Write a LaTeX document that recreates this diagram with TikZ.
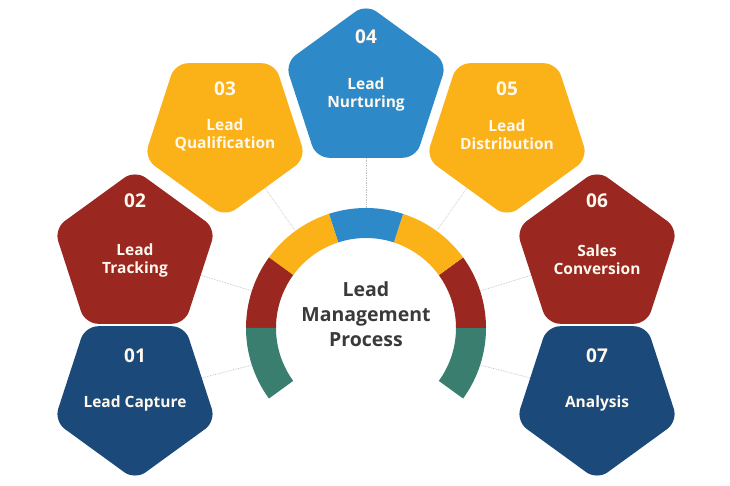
\documentclass[tikz,border=0pt]{standalone}
\usepackage{fontspec}
\setmainfont{Open Sans}
\usepackage{xcolor}
\definecolor{NAVYCOLOR}{HTML}{1B4A7A}
\definecolor{REDCOLOR}{HTML}{9A2820}
\definecolor{GOLDCOLOR}{HTML}{FBB118}
\definecolor{SKYCOLOR}{HTML}{2E89C9}
\definecolor{TEALCOLOR}{HTML}{3A7E70}
\definecolor{TITLECOLOR}{HTML}{3A3A3A}
\definecolor{LABELCOLOR}{HTML}{FFF8EE}
\usepackage{tikz}
\usetikzlibrary{shapes.geometric,backgrounds}
\tikzset{
  pent-style/.style = {
    regular polygon, regular polygon sides=5,
    minimum size=170pt, inner sep=0pt,
    rounded corners=13pt,
    fill=#1
  },
  down-style/.style = {
    shape border rotate=180
  },
  num-style/.style = {
    anchor=base, inner sep=0pt, text=LABELCOLOR,
    font=\bfseries\fontsize{19}{20}\selectfont
  },
  stage-style/.style = {
    align=center, inner sep=0pt, text=LABELCOLOR,
    font=\bfseries\fontsize{15.5}{18}\selectfont
  },
  title-style/.style = {
    align=center, inner sep=0pt, text=TITLECOLOR,
    font=\bfseries\fontsize{19.5}{25}\selectfont
  },
  link-style/.style = {
    draw=gray!50, densely dotted, line width=0.7pt
  }
}

\begin{document}
\begin{tikzpicture}[x=1pt,y=1pt]
    \useasboundingbox (0,0) rectangle (730,486);
    \coordinate (ctr) at (366,158);

    %%% ring
    \foreach \a/\c in {-36/TEALCOLOR,0/REDCOLOR,36/GOLDCOLOR,72/SKYCOLOR,108/GOLDCOLOR,144/REDCOLOR,180/TEALCOLOR}{
      \fill[\c] ([shift={(\a:120)}]ctr) arc[start angle=\a,end angle=\a+36,radius=120]
        -- ([shift={({\a+36}:90)}]ctr) arc[start angle=\a+36,end angle=\a,radius=90] -- cycle;
    }
    \node[title-style] (title) at (366,172) {Lead\\Management\\Process};

    %%% points on the ring
    \coordinate (a1) at ([shift={(198:120)}]ctr);
    \coordinate (a2) at ([shift={(162:120)}]ctr);
    \coordinate (a3) at ([shift={(126:120)}]ctr);
    \coordinate (a4) at ([shift={(90:120)}]ctr);
    \coordinate (a5) at ([shift={(54:120)}]ctr);
    \coordinate (a6) at ([shift={(18:120)}]ctr);
    \coordinate (a7) at ([shift={(-18:120)}]ctr);

    %%% stages
    \node[pent-style=NAVYCOLOR,down-style] (p1) at (135,91) {};
    \node[num-style] (n1) at ([yshift=32pt]p1) {01};
    \node[stage-style] (t1) at ([yshift=-8.5pt]p1) {Lead Capture};

    \node[pent-style=REDCOLOR] (p2) at (135,231) {};
    \node[num-style] (n2) at ([yshift=47pt]p2) {02};
    \node[stage-style] (t2) at ([yshift=-5pt]p2) {Lead\\Tracking};

    \node[pent-style=GOLDCOLOR,down-style] (p3) at (225,354) {};
    \node[num-style] (n3) at ([yshift=36pt]p3) {03};
    \node[stage-style] (t3) at ([yshift=-2.5pt]p3) {Lead\\Qualification};

    \node[pent-style=SKYCOLOR] (p4) at (366,397) {};
    \node[num-style] (n4) at ([yshift=45pt]p4) {04};
    \node[stage-style] (t4) at ([yshift=-5pt]p4) {Lead\\Nurturing};

    \node[pent-style=GOLDCOLOR,down-style] (p5) at (507,354) {};
    \node[num-style] (n5) at ([yshift=36pt]p5) {05};
    \node[stage-style] (t5) at ([yshift=-2.5pt]p5) {Lead\\Distribution};

    \node[pent-style=REDCOLOR] (p6) at (597,231) {};
    \node[num-style] (n6) at ([yshift=47pt]p6) {06};
    \node[stage-style] (t6) at ([yshift=-5pt]p6) {Sales\\Conversion};

    \node[pent-style=NAVYCOLOR,down-style] (p7) at (597,91) {};
    \node[num-style] (n7) at ([yshift=32pt]p7) {07};
    \node[stage-style] (t7) at ([yshift=-8.5pt]p7) {Analysis};

    %%% links
    \begin{pgfonlayer}{background}
      \draw[link-style] (p1) -- (a1);
      \draw[link-style] (p2) -- (a2);
      \draw[link-style] (p3) -- (a3);
      \draw[link-style] (p4) -- (a4);
      \draw[link-style] (p5) -- (a5);
      \draw[link-style] (p6) -- (a6);
      \draw[link-style] (p7) -- (a7);
    \end{pgfonlayer}
\end{tikzpicture}
\end{document}
